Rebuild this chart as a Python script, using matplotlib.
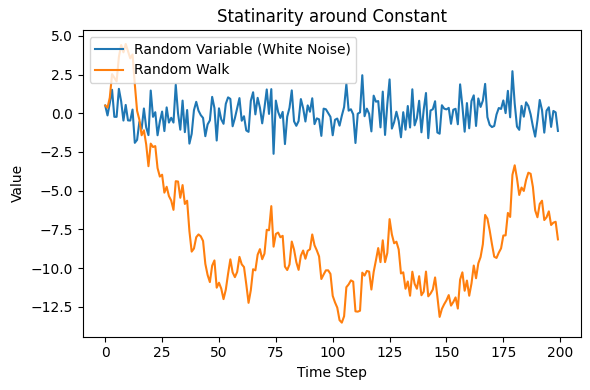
import numpy as np
import matplotlib.pyplot as plt

# white noise values (200 steps)
white_noise = [
    0.50, -0.14, 0.65, 1.52, -0.23, -0.23, 1.58, 0.77, -0.47, 0.54,
    -0.46, -0.47, 0.24, -1.91, -1.72, -0.56, -1.01, 0.31, -0.91, -1.41,
    1.47, -0.23, 0.07, -1.42, -0.54, 0.11, -1.15, 0.38, -0.60, -0.29,
    -0.60, 1.85, -0.01, -1.06, 0.82, -1.22, 0.21, -1.96, -1.33, 0.20,
    0.74, 0.17, -0.12, -0.30, -1.48, -0.72, -0.46, 1.06, 0.34, -1.76,
    0.32, -0.39, -0.68, 0.61, 1.03, 0.93, -0.84, -0.31, 0.33, 0.98,
    -0.48, -0.19, -1.11, -1.20, 0.81, 1.36, -0.07, 1.00, 0.36, -0.65,
    0.36, 1.54, -0.04, 1.56, -2.62, 0.82, 0.09, -0.30, 0.09, -1.99,
    -0.22, 0.36, 1.48, -0.52, -0.81, -0.50, 0.92, 0.33, -0.53, 0.51,
    0.10, 0.97, -0.70, -0.33, -0.39, -1.46, 0.30, 0.26, 0.01, -0.23,
    -1.42, -0.42, -0.34, -0.80, -0.16, 0.40, 1.89, 0.17, 0.26, -0.07,
    -1.92, -0.03, 0.06, 2.46, -0.19, 0.30, -0.03, -1.17, 1.14, 0.75,
    0.79, -0.91, 1.40, -1.40, 0.59, 2.19, -0.99, -0.57, 0.10, -0.50,
    -1.55, 0.07, -1.06, 0.47, -0.92, 1.55, -0.78, -0.32, 0.81, -1.23,
    0.23, 1.31, -1.61, 0.18, 0.26, 0.78, -1.24, -1.32, 0.52, 0.30,
    0.25, 0.35, -0.68, 0.23, 0.29, -0.71, 1.87, 0.47, -1.19, 0.66,
    -0.97, 0.79, 1.16, -0.82, 0.96, 0.41, 0.82, 1.90, -0.25, -0.75,
    -0.89, -0.82, -0.08, 0.34, 0.28, 0.83, 0.01, 1.45, -0.26, 2.72,
    0.63, -0.86, -1.07, 0.48, -0.22, 0.71, 0.47, -0.07, -0.85, -1.51,
    -0.45, 0.86, 0.21, -1.25, 0.17, 0.39, -0.88, 0.15, 0.06, -1.14,
]

# random walk values
random_walk = [
    0.50, 0.36, 1.01, 2.53, 2.30, 2.06, 3.64, 4.41, 3.94, 4.48,
    4.02, 3.55, 3.80, 1.88, 0.16, -0.41, -1.42, -1.10, -2.01, -3.42,
    -1.96, -2.18, -2.12, -3.54, -4.09, -3.97, -5.13, -4.75, -5.35, -5.64,
    -6.24, -4.39, -4.41, -5.46, -4.64, -5.86, -5.65, -7.61, -8.94, -8.74,
    -8.01, -7.83, -7.95, -8.25, -9.73, -10.45, -10.91, -9.85, -9.51, -11.27,
    -10.95, -11.33, -12.01, -11.40, -10.37, -9.44, -10.28, -10.59, -10.25, -9.28,
    -9.76, -9.94, -11.05, -12.25, -11.43, -10.08, -10.15, -9.14, -8.78, -9.43,
    -9.07, -7.53, -7.56, -6.00, -8.62, -7.80, -7.71, -8.01, -7.92, -9.91,
    -10.13, -9.77, -8.29, -8.81, -9.62, -10.12, -9.20, -8.87, -9.40, -8.89,
    -8.79, -7.83, -8.53, -8.86, -9.25, -10.71, -10.42, -10.15, -10.15, -10.38,
    -11.80, -12.22, -12.56, -13.37, -13.53, -13.12, -11.24, -11.06, -10.80, -10.88,
    -12.80, -12.82, -12.76, -10.30, -10.49, -10.19, -10.23, -11.39, -10.25, -9.50,
    -8.71, -9.62, -8.21, -9.62, -9.03, -6.84, -7.83, -8.40, -8.30, -8.80,
    -10.35, -10.28, -11.34, -10.87, -11.79, -10.24, -11.02, -11.34, -10.53, -11.76,
    -11.53, -10.23, -11.83, -11.65, -11.39, -10.61, -11.84, -13.16, -12.64, -12.34,
    -12.09, -11.75, -12.43, -12.20, -11.90, -12.62, -10.75, -10.28, -11.47, -10.81,
    -11.79, -11.00, -9.84, -10.66, -9.70, -9.29, -8.46, -6.57, -6.81, -7.57,
    -8.46, -9.27, -9.35, -9.01, -8.73, -7.90, -7.89, -6.44, -6.70, -3.98,
    -3.36, -4.21, -5.28, -4.80, -5.02, -4.31, -3.84, -3.91, -4.76, -6.27,
    -6.72, -5.86, -5.65, -6.90, -6.72, -6.34, -7.22, -7.07, -7.01, -8.15,
]

steps = np.arange(len(white_noise))

fig, ax = plt.subplots(figsize=(5.9, 3.9), dpi=100)
ax.plot(steps, white_noise, label='Random Variable (White Noise)')
ax.plot(steps, random_walk, label='Random Walk')
ax.set_title('Statinarity around Constant')
ax.set_xlabel('Time Step')
ax.set_ylabel('Value')
ax.legend(loc='upper left')
fig.subplots_adjust(left=0.140, right=0.984, top=0.923, bottom=0.137)
fig.savefig('out.png')
